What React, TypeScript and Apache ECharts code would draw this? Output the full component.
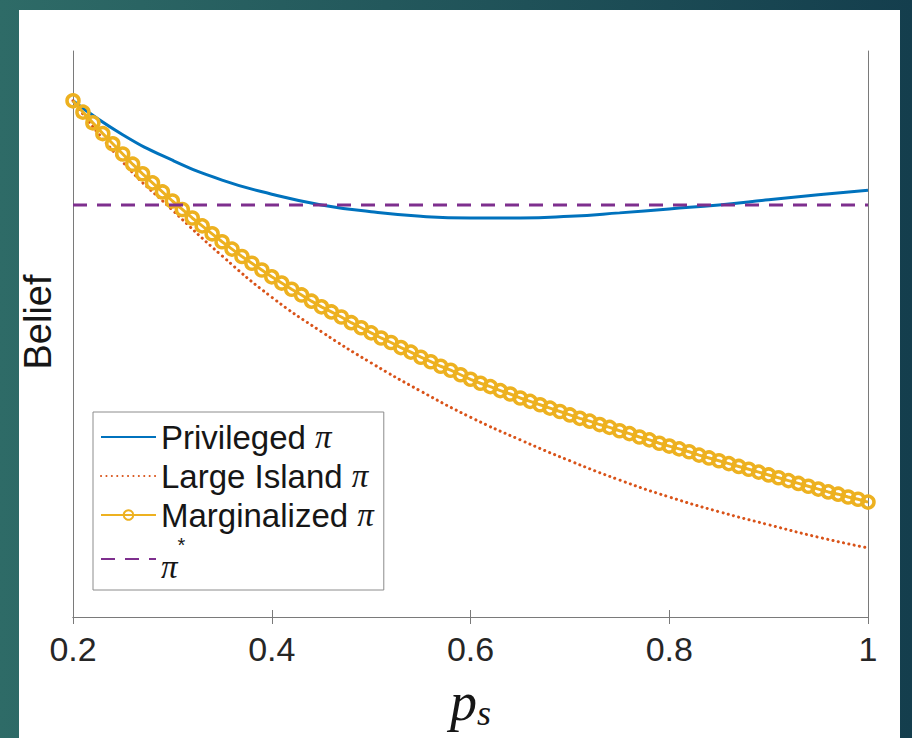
import React, { useEffect, useRef } from "react";
import * as echarts from "echarts";

// x grid (p_s) for the smooth curves
const pCoarse = [0.2, 0.25, 0.3, 0.35, 0.4, 0.45, 0.5, 0.55, 0.6, 0.65, 0.7, 0.75, 0.8, 0.85, 0.9, 0.95, 1.0];
const privileged = [0.912, 0.852, 0.807, 0.772, 0.747, 0.728, 0.716, 0.708, 0.705, 0.705, 0.708, 0.714, 0.721, 0.728, 0.737, 0.746, 0.754];
const largeIsland = [0.912, 0.804, 0.719, 0.638, 0.565, 0.504, 0.449, 0.399, 0.353, 0.313, 0.276, 0.242, 0.212, 0.186, 0.163, 0.141, 0.122];

// x grid for the marker series
const pFine = [
  0.2, 0.21, 0.22, 0.23, 0.24, 0.25, 0.26, 0.27, 0.28, 0.29,
  0.3, 0.31, 0.32, 0.33, 0.34, 0.35, 0.36, 0.37, 0.38, 0.39,
  0.4, 0.41, 0.42, 0.43, 0.44, 0.45, 0.46, 0.47, 0.48, 0.49,
  0.5, 0.51, 0.52, 0.53, 0.54, 0.55, 0.56, 0.57, 0.58, 0.59,
  0.6, 0.61, 0.62, 0.63, 0.64, 0.65, 0.66, 0.67, 0.68, 0.69,
  0.7, 0.71, 0.72, 0.73, 0.74, 0.75, 0.76, 0.77, 0.78, 0.79,
  0.8, 0.81, 0.82, 0.83, 0.84, 0.85, 0.86, 0.87, 0.88, 0.89,
  0.9, 0.91, 0.92, 0.93, 0.94, 0.95, 0.96, 0.97, 0.98, 0.99, 1.0,
];
const marginalized = [
  0.912, 0.892, 0.873, 0.854, 0.836, 0.818, 0.8, 0.783, 0.767, 0.751,
  0.735, 0.72, 0.705, 0.691, 0.677, 0.663, 0.65, 0.637, 0.625, 0.613,
  0.601, 0.59, 0.579, 0.569, 0.558, 0.548, 0.539, 0.53, 0.52, 0.511,
  0.502, 0.493, 0.485, 0.476, 0.468, 0.459, 0.451, 0.443, 0.436, 0.428,
  0.42, 0.413, 0.407, 0.4, 0.394, 0.387, 0.381, 0.375, 0.369, 0.363,
  0.357, 0.351, 0.346, 0.34, 0.335, 0.329, 0.324, 0.318, 0.313, 0.307,
  0.302, 0.297, 0.292, 0.286, 0.281, 0.276, 0.271, 0.266, 0.261, 0.256,
  0.251, 0.246, 0.241, 0.236, 0.231, 0.226, 0.221, 0.217, 0.212, 0.208, 0.203,
];

const piStarP = [0.2, 1.0];
const piStar = [0.728, 0.728];

const seriesNames = ["Privileged π", "Large Island π", "Marginalized π", "π*"];
const xTicks = [0.2, 0.4, 0.6, 0.8, 1];

const AXIS_COLOR = "#7a7a7a";
const SANS = "Liberation Sans";
const SERIF = "Liberation Serif";
const TXT = "#161616";

export default function App() {
  const ref = useRef<HTMLDivElement>(null);

  useEffect(() => {
    const chart = echarts.init(ref.current as HTMLDivElement, null, { renderer: "svg" });
    const zip = (xs: number[], ys: number[]) => xs.map((x, i) => [x, ys[i]]);

    const option: any = {
      animation: false,
      backgroundColor: new echarts.graphic.LinearGradient(0, 0, 1, 0, [
        { offset: 0, color: "#2e6b67" },
        { offset: 1, color: "#143e4d" },
      ]),
      graphic: [
        {
          type: "rect",
          z: -10,
          silent: true,
          shape: { x: 19, y: 10, width: 881, height: 740 },
          style: { fill: "#ffffff" },
        },
      ],
      grid: { left: 73, right: 44, top: 51, bottom: 121 },
      xAxis: [
        {
          type: "value",
          position: "bottom",
          min: xTicks[0],
          max: xTicks[xTicks.length - 1],
          interval: 0.2,
          axisLine: { show: true, lineStyle: { color: AXIS_COLOR, width: 1 } },
          axisTick: { show: true, inside: true, length: 7, lineStyle: { color: AXIS_COLOR } },
          axisLabel: {
            show: true,
            fontSize: 34,
            fontFamily: SANS,
            color: "#262626",
            margin: 15,
            showMinLabel: true,
            showMaxLabel: true,
          },
          splitLine: { show: false },
          name: "{p|p}{s|s}",
          nameLocation: "middle",
          nameGap: 58,
          nameTextStyle: {
            rich: {
              p: { fontSize: 54, fontFamily: SERIF, fontStyle: "italic", color: TXT, verticalAlign: "top", lineHeight: 56 },
              s: { fontSize: 36, fontFamily: SERIF, fontStyle: "italic", color: TXT, verticalAlign: "bottom", lineHeight: 30 },
            },
          },
        },
        {
          type: "value",
          position: "top",
          min: xTicks[0],
          max: xTicks[xTicks.length - 1],
          interval: 0.2,
          axisLine: { show: true, lineStyle: { color: AXIS_COLOR, width: 1 } },
          axisTick: { show: true, inside: true, length: 7, lineStyle: { color: AXIS_COLOR } },
          axisLabel: { show: false },
          splitLine: { show: false },
        },
      ],
      yAxis: [
        {
          type: "value",
          position: "left",
          min: 0,
          max: 1,
          axisLine: { show: true, lineStyle: { color: AXIS_COLOR, width: 1 } },
          axisTick: { show: false },
          axisLabel: { show: false },
          splitLine: { show: false },
          name: "{b|Belief}",
          nameLocation: "middle",
          nameGap: 15,
          nameTextStyle: {
            fontSize: 38,
            fontFamily: SANS,
            color: TXT,
            rich: {
              b: { fontSize: 38, fontFamily: SANS, color: TXT, lineHeight: 40, padding: [0, 0, 0, 24] },
            },
          },
        },
        {
          type: "value",
          position: "right",
          min: 0,
          max: 1,
          axisLine: { show: true, lineStyle: { color: AXIS_COLOR, width: 1 } },
          axisTick: { show: false },
          axisLabel: { show: false },
          splitLine: { show: false },
        },
      ],
      legend: {
        orient: "vertical",
        left: 93,
        top: 412,
        padding: [6, 10, 7, 7],
        itemGap: 1,
        itemWidth: 55,
        itemHeight: 12,
        borderColor: "#8c8c8c",
        borderWidth: 1,
        borderRadius: 0,
        backgroundColor: "#ffffff",
        data: [
          { name: seriesNames[0], itemStyle: { opacity: 0 } },
          { name: seriesNames[1], itemStyle: { opacity: 0 } },
          { name: seriesNames[2] },
          { name: seriesNames[3], itemStyle: { opacity: 0 } },
        ],
        textStyle: {
          fontSize: 33,
          fontFamily: SANS,
          color: TXT,
          lineHeight: 38,
          rich: {
            t: { fontSize: 33, fontFamily: SANS, color: TXT, lineHeight: 38 },
            m: { fontSize: 33, fontFamily: SERIF, fontStyle: "italic", color: TXT, lineHeight: 38 },
            m2: { fontSize: 33, fontFamily: SERIF, fontStyle: "italic", color: TXT, lineHeight: 48, verticalAlign: "bottom" },
            sup: { fontSize: 20, fontFamily: SANS, color: TXT, lineHeight: 48, verticalAlign: "top" },
          },
        },
        formatter: (name: string) => {
          if (name === "π*") return "{m2|π}{sup|*}";
          return `{t|${name.replace(" π", "")} }{m|π}`;
        },
      },
      series: [
        {
          name: seriesNames[0],
          type: "line",
          data: zip(pCoarse, privileged),
          smooth: true,
          symbol: "none",
          lineStyle: { color: "#0072BD", width: 3 },
          itemStyle: { color: "#0072BD" },
          z: 2,
        },
        {
          name: seriesNames[1],
          type: "line",
          data: zip(pCoarse, largeIsland),
          smooth: true,
          symbol: "none",
          lineStyle: { color: "#D95319", width: 3, type: [0.1, 5.3], cap: "round" },
          itemStyle: { color: "#D95319" },
          z: 3,
        },
        {
          name: seriesNames[2],
          type: "line",
          data: zip(pFine, marginalized),
          symbol: "circle",
          symbolSize: 12,
          lineStyle: { color: "#EDB120", width: 3 },
          itemStyle: { color: "rgba(255,255,255,0)", borderColor: "#EDB120", borderWidth: 3.5 },
          z: 4,
        },
        {
          name: seriesNames[3],
          type: "line",
          data: zip(piStarP, piStar),
          symbol: "none",
          lineStyle: { color: "#7E2F8E", width: 3, type: [14, 10] },
          itemStyle: { color: "#7E2F8E" },
          z: 5,
        },
      ],
    };

    chart.setOption(option);
    return () => chart.dispose();
  }, []);

  return <div ref={ref} style={{ position: "fixed", left: 0, top: 0, width: 912, height: 738 }} />;
}
